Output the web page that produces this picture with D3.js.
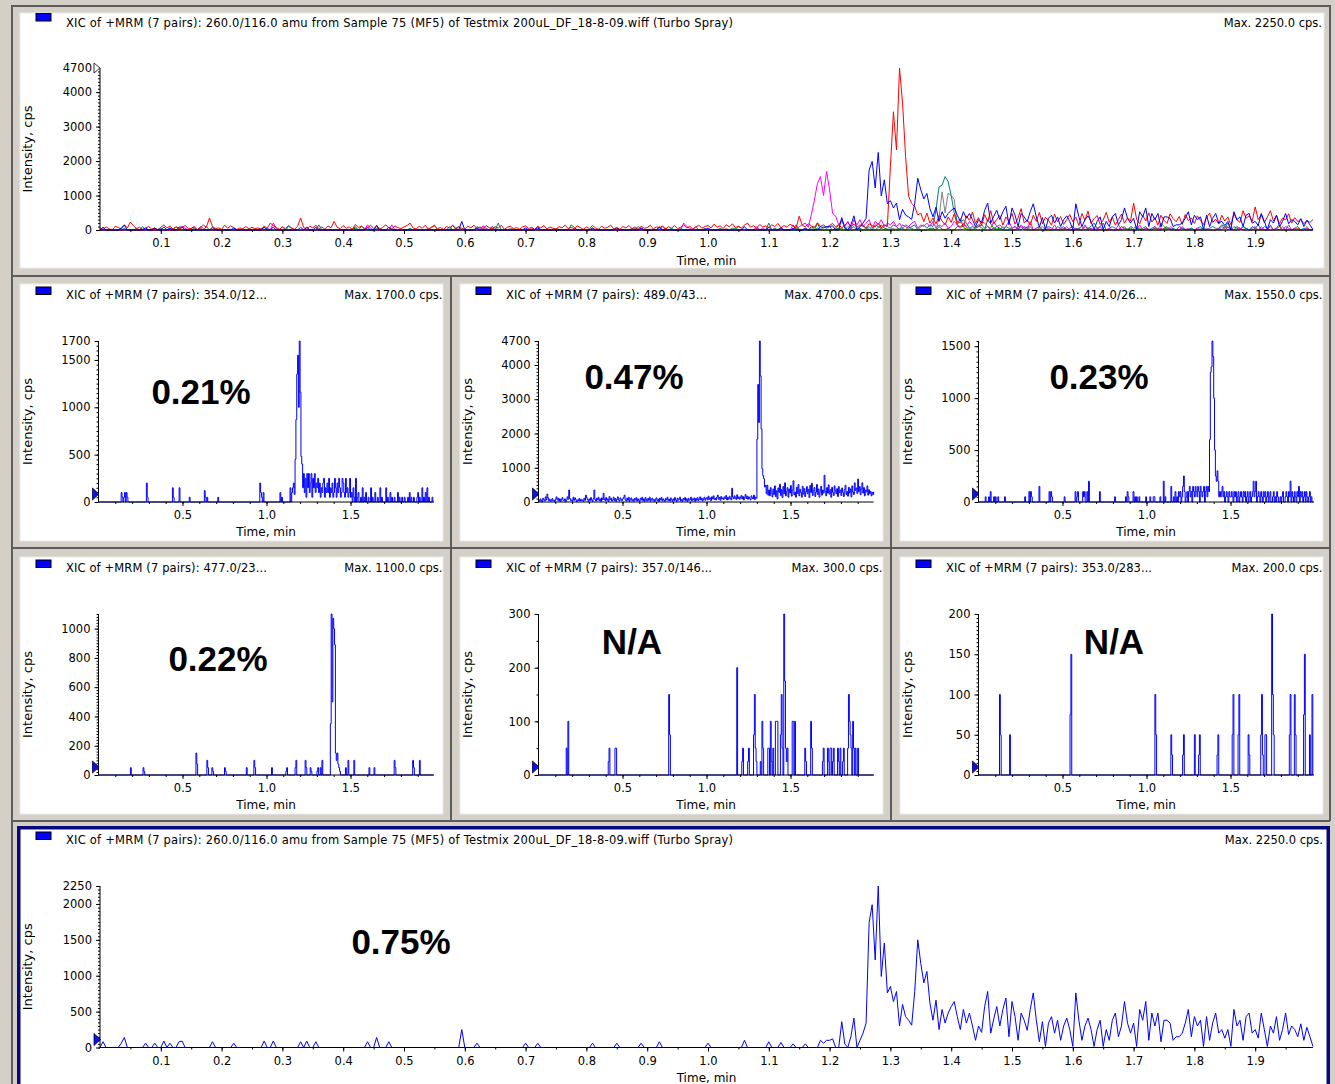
<!DOCTYPE html>
<html>
<head>
<meta charset="utf-8">
<script src="https://cdn.jsdelivr.net/npm/d3@7"></script>
<style>
  body { margin: 0; background: #d4d0c8; }
  svg { display: block; }
  text { font-family: "DejaVu Sans", sans-serif; fill: #000; }
</style>
</head>
<body>
<svg id="chart" width="1335" height="1084"></svg>
<script>
// every trace is sampled every 0.005 min from 0.000 to 1.995 min (20 samples per row = 0.1 min)
const sampleStep = 0.005;

// 260.0/116.0 amu
const trace260 = [
  0,80,0,0,0,0,0,60,140,0,0,0,0,0,0,60,0,0,60,0,
  0,90,0,60,0,0,80,90,0,0,0,0,0,0,0,0,0,80,0,0,
  0,0,0,0,60,0,0,0,0,0,0,0,0,0,90,0,0,90,0,0,
  0,0,0,0,0,0,80,0,90,0,0,80,0,0,0,0,0,0,0,0,
  0,0,0,0,0,0,0,0,80,0,0,140,0,0,0,80,0,0,0,0,
  0,0,0,0,0,0,0,0,0,0,0,0,0,0,0,0,0,0,0,250,
  0,0,0,0,60,0,0,0,0,0,0,0,0,0,0,0,0,0,0,0,
  60,0,0,0,60,0,0,0,0,0,0,0,0,0,0,0,0,0,0,0,
  0,0,60,0,0,0,0,0,0,0,60,0,0,0,0,0,0,0,60,0,
  0,0,0,0,80,0,0,0,0,0,0,0,0,0,0,0,0,0,0,0,
  60,0,0,0,0,0,0,0,0,0,0,0,100,0,0,0,0,0,0,0,
  80,0,0,0,70,0,0,0,50,0,0,0,50,0,0,0,0,100,60,100,
  100,120,0,0,360,50,0,150,410,0,100,200,340,1740,1990,1220,2250,990,1455,760,
  850,640,780,300,600,430,380,310,780,1500,1170,900,1060,620,380,660,250,530,340,480,
  570,640,430,250,530,340,480,300,100,300,210,570,780,200,400,570,300,530,690,150,
  640,430,100,480,380,240,530,760,380,80,360,15,340,430,200,380,100,300,410,250,
  15,760,380,100,300,410,250,15,250,380,15,250,100,380,480,150,300,640,340,200,
  340,15,530,380,640,100,480,300,480,80,380,380,340,100,150,150,200,340,530,150,
  430,300,380,15,430,100,340,480,200,250,130,250,15,530,300,380,100,430,480,200,
  250,130,480,250,15,300,200,430,100,250,480,180,300,250,150,330,100,280,150,15
];

// 489.0/43...
const trace489 = [
  60,20,90,40,0,110,70,30,150,60,230,120,40,80,20,60,100,30,50,10,
  80,150,60,110,30,90,20,70,130,50,40,90,10,60,150,80,350,100,40,60,
  20,140,50,120,70,10,60,40,100,30,80,40,60,20,110,50,200,130,70,20,
  90,40,130,60,20,100,350,70,30,110,60,140,40,90,20,120,60,250,80,40,
  130,50,90,20,160,70,110,30,60,140,40,100,20,80,150,60,30,120,70,40,
  90,130,200,60,30,110,50,140,20,80,120,40,70,20,100,60,130,30,90,50,
  20,110,60,140,40,90,20,130,70,30,100,50,140,20,80,110,40,70,20,90,
  120,40,80,20,110,60,130,30,90,50,20,100,60,140,40,80,30,120,70,20,
  90,40,130,60,20,110,50,80,140,30,70,20,100,60,130,40,90,20,110,50,
  70,140,30,90,60,120,20,100,50,130,40,80,150,60,110,30,90,140,50,100,
  130,60,170,80,120,40,150,90,180,70,110,60,140,200,80,130,50,160,90,120,
  70,150,100,190,60,130,80,170,110,60,400,140,90,180,120,70,210,100,150,80,
  130,190,90,160,60,140,220,100,170,80,150,110,60,180,130,90,200,70,140,110,
  1840,3430,2320,4700,3680,2130,970,770,680,440,490,240,490,200,350,180,420,260,150,380,
  220,470,160,330,90,410,280,520,190,360,130,450,240,560,180,310,420,140,380,260,
  480,170,350,620,210,290,140,430,250,510,180,370,280,140,460,230,390,160,300,450,
  240,370,130,480,280,550,190,330,420,160,290,510,220,380,140,300,460,200,350,260,
  780,310,180,420,260,500,230,360,140,430,280,190,470,330,240,390,160,450,270,350,
  190,410,280,160,360,490,220,310,170,430,260,380,150,470,290,220,560,340,410,250,
  670,300,450,210,380,560,260,420,180,350,290,470,200,360,240,310,180,280,220,300
];

// 354.0/12...
const trace354 = [
  0,0,0,0,0,0,0,0,0,0,0,0,0,0,0,0,0,0,0,0,
  0,0,0,0,0,0,0,100,50,0,50,100,0,100,50,0,0,0,0,0,
  0,0,0,0,0,0,0,0,0,0,0,0,0,0,0,0,0,200,50,0,
  0,0,0,0,0,0,0,0,0,0,0,0,0,0,0,0,0,0,0,0,
  0,0,0,0,0,0,0,0,150,50,0,0,0,0,0,0,150,0,0,0,
  0,0,0,0,0,0,0,0,50,0,0,0,0,0,0,0,0,0,0,0,
  0,0,0,0,0,0,120,50,0,50,0,0,0,0,0,0,0,0,0,0,
  0,0,50,0,0,0,0,0,0,0,0,0,0,0,0,0,0,0,0,0,
  0,0,0,0,0,0,0,0,0,0,0,0,0,0,0,0,0,0,0,0,
  0,0,0,0,0,0,0,0,0,0,0,0,200,100,50,0,100,0,0,0,
  0,0,0,0,0,0,0,0,0,0,0,0,0,0,0,0,100,0,50,0,
  0,0,0,0,0,0,0,0,150,0,100,150,200,80,450,870,1350,1550,1000,1700,
  1160,480,400,150,300,100,250,50,300,150,300,100,200,300,50,250,150,300,100,200,
  150,250,100,200,50,150,100,200,250,50,150,100,200,100,250,50,150,100,200,50,
  100,250,150,50,200,100,250,150,50,100,250,200,100,50,250,100,150,50,100,250,
  50,100,0,150,50,0,250,0,50,100,0,0,50,0,150,0,50,0,100,0,
  0,50,0,0,150,0,50,0,0,100,0,0,50,0,0,150,0,50,0,0,
  0,0,150,0,50,0,0,100,0,50,0,0,50,0,0,0,100,0,50,0,
  0,50,0,0,50,0,0,0,50,0,100,0,50,0,0,50,0,0,0,50,
  100,0,50,0,0,150,0,50,0,100,0,150,0,50,0,0,0,50,0,0
];

// 414.0/26...
const trace414 = [
  0,0,0,0,0,0,0,0,50,0,0,0,50,0,100,0,0,0,50,0,
  50,0,0,50,0,0,0,0,0,0,0,50,0,0,0,0,0,0,0,0,
  0,0,0,0,0,0,0,0,0,0,0,0,0,0,0,50,0,0,0,0,
  100,0,100,50,0,0,0,0,0,0,0,0,150,0,0,0,0,0,0,0,
  0,0,0,0,100,0,100,50,0,0,0,0,0,0,0,0,0,0,0,0,
  0,0,50,0,0,0,0,0,0,0,0,0,0,0,0,100,0,50,100,0,
  0,0,0,0,100,50,100,0,0,100,0,200,0,0,0,0,0,0,0,0,
  0,0,0,0,100,0,0,0,0,0,0,0,0,0,0,0,0,0,0,0,
  0,0,50,0,0,0,0,0,0,0,0,0,0,0,0,50,0,100,50,0,
  0,0,0,0,100,0,50,0,50,0,0,50,0,0,0,0,0,0,0,50,
  0,0,0,0,50,0,0,0,50,50,0,0,0,0,0,0,50,0,0,0,
  200,0,50,0,0,0,0,0,0,150,0,0,50,0,100,0,50,0,100,50,
  100,0,50,150,250,100,0,50,100,0,100,150,50,100,0,150,100,50,150,100,
  50,150,100,0,150,100,50,100,150,0,100,150,50,150,100,600,1250,1300,1550,1400,
  1000,500,250,200,300,200,50,100,50,100,150,50,100,0,50,100,50,0,100,50,
  50,100,50,0,100,50,100,0,50,100,0,50,100,50,0,100,50,100,0,50,
  100,0,50,100,0,50,100,200,50,100,200,0,50,100,50,0,100,50,0,100,
  50,100,0,50,100,0,50,100,0,0,50,100,0,50,0,100,50,0,0,50,
  0,50,100,0,0,50,100,50,0,100,50,200,0,100,50,0,100,50,0,100,
  50,150,0,100,50,100,0,50,100,0,100,50,0,50,100,0,50,0,0,0
];

// 477.0/23...
const trace477 = [
  0,0,0,0,0,0,0,0,0,0,0,0,0,0,0,0,0,0,0,0,
  0,0,0,0,0,0,0,0,0,0,0,0,0,0,0,0,0,0,50,0,
  0,0,0,0,0,0,0,0,0,0,0,0,0,50,25,0,0,0,0,0,
  0,0,0,0,0,0,0,0,0,0,0,0,0,0,0,0,0,0,0,0,
  0,0,0,0,0,0,0,0,0,0,0,0,0,0,0,0,0,0,0,0,
  0,0,0,0,0,0,0,0,0,0,0,0,0,0,0,0,150,75,0,0,
  0,0,0,0,0,0,0,0,0,100,50,0,0,0,0,50,25,0,0,0,
  0,0,0,0,0,0,0,0,0,0,50,25,0,0,0,0,0,0,0,0,
  0,0,0,0,0,0,0,0,0,0,0,0,0,0,0,0,50,0,0,0,
  0,0,0,0,0,100,50,0,0,0,0,0,0,0,0,0,0,0,0,0,
  0,0,0,0,0,0,50,0,0,0,0,0,0,0,0,0,0,0,0,0,
  0,0,0,25,50,0,0,0,0,0,0,0,0,0,50,100,0,0,0,0,
  0,0,0,0,0,0,100,50,0,0,0,0,50,25,0,0,0,0,0,0,
  25,50,0,0,50,0,100,0,0,0,0,0,0,0,0,0,350,1100,500,1070,
  1000,890,150,100,150,75,50,25,0,0,0,0,0,0,50,0,0,100,0,0,
  0,0,0,0,100,0,0,0,0,0,0,0,0,0,0,0,0,0,0,0,
  0,0,50,0,0,0,0,0,50,0,0,0,0,0,0,0,0,0,0,0,
  0,0,0,0,0,0,0,0,0,0,0,0,100,50,0,0,0,0,0,0,
  0,0,0,0,0,0,0,0,0,0,0,0,0,0,100,50,0,0,0,0,
  0,0,100,0,0,0,0,0,0,0,0,0,0,0,0,0,0,0,0,0
];

// 357.0/146...
const trace357 = [
  0,0,0,0,0,0,0,0,0,0,0,0,0,0,0,0,0,0,0,0,
  0,0,0,0,0,0,0,0,0,0,0,0,0,50,0,100,0,0,0,0,
  0,0,0,0,0,0,0,0,0,0,0,0,0,0,0,0,0,0,0,0,
  0,0,0,0,0,0,0,0,0,0,0,0,0,0,0,0,0,0,0,0,
  0,0,0,25,50,0,0,0,0,0,0,50,50,0,0,0,0,0,0,0,
  0,0,0,0,0,0,0,0,0,0,0,0,0,0,0,0,0,0,0,0,
  0,0,0,0,0,0,0,0,0,0,0,0,0,0,0,0,0,0,0,0,
  0,0,0,0,0,0,0,0,0,0,0,0,0,0,0,150,75,0,0,0,
  0,0,0,0,0,0,0,0,0,0,0,0,0,0,0,0,0,0,0,0,
  0,0,0,0,0,0,0,0,0,0,0,0,0,0,0,0,0,0,0,0,
  0,0,0,0,0,0,0,0,0,0,0,0,0,0,0,0,0,0,0,0,
  0,0,0,0,0,0,0,0,0,0,0,0,0,0,0,0,200,0,0,0,
  0,0,25,50,0,0,0,0,0,25,50,0,0,0,0,0,75,150,50,25,
  0,0,0,0,25,0,100,50,0,0,0,0,0,50,50,0,100,25,0,50,
  0,0,100,100,100,0,0,0,75,150,50,0,300,175,50,25,50,0,0,0,
  0,0,100,100,0,100,0,0,0,0,0,0,0,0,0,0,0,50,25,0,
  0,0,0,0,100,50,0,0,0,0,0,0,0,0,0,0,0,0,25,50,
  0,0,0,0,50,25,0,50,50,0,25,50,0,0,0,0,50,25,0,50,
  0,0,25,50,0,0,0,0,50,150,100,75,50,0,100,50,0,50,0,0,
  50,0,0,0,0,0,0,0,0,0,0,0,0,0,0,0,0,0,0,0
];

// 353.0/283...
const trace353 = [
  0,0,0,0,0,0,0,0,0,0,0,0,0,0,0,0,0,0,0,0,
  0,0,0,0,0,100,50,0,0,0,0,0,0,0,0,0,0,50,0,0,
  0,0,0,0,0,0,0,0,0,0,0,0,0,0,0,0,0,0,0,0,
  0,0,0,0,0,0,0,0,0,0,0,0,0,0,0,0,0,0,0,0,
  0,0,0,0,0,0,0,0,0,0,0,0,0,0,0,0,0,0,0,0,
  0,0,0,0,0,0,0,0,0,75,150,0,0,0,0,0,0,0,0,0,
  0,0,0,0,0,0,0,0,0,0,0,0,0,0,0,0,0,0,0,0,
  0,0,0,0,0,0,0,0,0,0,0,0,0,0,0,0,0,0,0,0,
  0,0,0,0,0,0,0,0,0,0,0,0,0,0,0,0,0,0,0,0,
  0,0,0,0,0,0,0,0,0,0,0,0,0,0,0,0,0,0,0,0,
  0,0,0,0,0,0,0,0,0,0,100,50,0,0,0,0,0,0,0,0,
  0,0,0,0,0,0,0,0,0,50,25,0,0,0,0,0,0,0,0,0,
  0,0,0,25,50,0,0,0,0,0,0,0,0,0,0,0,0,50,0,0,
  0,0,25,50,0,0,0,0,0,0,0,0,0,0,0,0,0,0,0,0,
  0,0,0,0,25,50,0,0,0,0,0,0,0,0,0,0,0,0,0,0,
  0,0,50,100,0,0,0,0,0,50,100,0,0,0,0,0,0,0,0,0,
  0,50,25,0,0,0,0,0,0,0,0,0,0,0,0,0,50,100,25,0,
  0,50,50,0,0,0,0,0,0,200,100,50,0,0,0,0,0,0,0,0,
  0,0,0,0,0,0,0,0,0,0,50,100,0,0,0,0,100,50,0,0,
  0,0,0,0,0,0,0,75,150,0,0,0,0,0,50,0,0,100,0,0
];

// labels and tick values
const wideTitle = "XIC of +MRM (7 pairs): 260.0/116.0 amu from Sample 75 (MF5) of Testmix 200uL_DF_18-8-09.wiff (Turbo Spray)";
const wideMaxCps = 2250.0;
const topYMax = 4700;
const topYTicks = [0, 1000, 2000, 3000, 4000, 4700];
const bottomYMax = 2250;
const bottomYTicks = [0, 500, 1000, 1500, 2000, 2250];
const bottomNote = "0.75%";
const wideTimeLabels = ["0.1","0.2","0.3","0.4","0.5","0.6","0.7","0.8","0.9","1.0","1.1","1.2","1.3","1.4","1.5","1.6","1.7","1.8","1.9"];
const narrowTimeLabels = ["0.5", "1.0", "1.5"];

const smallPairs = ["354.0/12...", "489.0/43...", "414.0/26...", "477.0/23...", "357.0/146...", "353.0/283..."];
const smallMaxCps = [1700.0, 4700.0, 1550.0, 1100.0, 300.0, 200.0];
const smallYTicks = [
  [0, 500, 1000, 1500, 1700],
  [0, 1000, 2000, 3000, 4000, 4700],
  [0, 500, 1000, 1500],
  [0, 200, 400, 600, 800, 1000],
  [0, 100, 200, 300],
  [0, 50, 100, 150, 200]
];
const smallNotes = ["0.21%", "0.47%", "0.23%", "0.22%", "N/A", "N/A"];

// ---- layout / style ----
const smallTraces = [trace354, trace489, trace414, trace477, trace357, trace353];
const smallMinorStep = [50, 100, 50, 20, 50, 5];
const smallNotePos = [[201, 404], [634, 389], [1099, 389], [218, 671], [632, 654], [1114, 654]];
const overlay = [
  { values: trace357, color: "#008000" },
  { values: trace353, color: "#808000" },
  { values: trace477, color: "#808080" },
  { values: trace414, color: "#008080" },
  { values: trace354, color: "#ff00ff" },
  { values: trace489, color: "#ff0000" },
  { values: trace260, color: "#0000ff" }
];
const fontSize = 11.5;
const lastTime = (trace260.length - 1) * sampleStep;

const svg = d3.select("#chart");
svg.append("rect").attr("width", 1335).attr("height", 1084).attr("fill", "#d4d0c8");

// white plot areas
const whiteBoxes = [[20, 13, 1324, 268]];
for (let r = 0; r < 2; r++) {
  for (let c = 0; c < 3; c++) {
    whiteBoxes.push([20 + 440 * c, 284 + 273 * r, 443 + 440 * c, 541 + 273 * r]);
  }
}
svg.selectAll("rect.white").data(whiteBoxes).join("rect")
  .attr("class", "white")
  .attr("x", (d) => d[0]).attr("y", (d) => d[1])
  .attr("width", (d) => d[2] - d[0]).attr("height", (d) => d[3] - d[1])
  .attr("fill", "#ffffff").attr("stroke", "#ecebe8").attr("stroke-width", 1);

// frame lines between panels
const frameLines = [
  [12, 5, 12, 1084], [1330, 5, 1330, 821], [12, 6, 1330, 6],
  [12, 276, 1330, 276], [12, 548, 1330, 548], [12, 821, 1330, 821],
  [451, 276, 451, 821], [891, 276, 891, 821]
];
svg.selectAll("line.frame").data(frameLines).join("line")
  .attr("class", "frame")
  .attr("x1", (d) => d[0]).attr("y1", (d) => d[1])
  .attr("x2", (d) => d[2]).attr("y2", (d) => d[3])
  .attr("stroke", "#5c5c5c").attr("stroke-width", 2);

// selected (bottom) pane with navy border
svg.append("rect")
  .attr("x", 18.75).attr("y", 827.75).attr("width", 1309.5).attr("height", 300)
  .attr("fill", "#ffffff").attr("stroke", "#08087a").attr("stroke-width", 3.5);

function drawPanel(cfg) {
  const g = svg.append("g");
  const x = d3.scaleLinear().domain([0, 2]).range([cfg.left, cfg.left + cfg.pxPerMin * 2]);
  const y = d3.scaleLinear().domain([0, cfg.yMax]).range([cfg.bottom, cfg.top]);

  const line = d3.line()
    .x((d, i) => x(i * sampleStep))
    .y((d) => y(d))
    .curve(cfg.curve);

  g.selectAll("path.trace").data(cfg.traces).join("path")
    .attr("class", "trace")
    .attr("d", (d) => line(d.values))
    .attr("fill", "none")
    .attr("stroke", (d) => d.color)
    .attr("stroke-width", 1);

  const style = (a) => a
    .attr("font-family", "DejaVu Sans")
    .attr("font-size", fontSize)
    .attr("color", "#000")
    .call((s) => s.select(".domain").remove());

  // x axis: minor then labelled ticks
  g.append("g").attr("transform", `translate(0,${cfg.bottom})`)
    .call(d3.axisBottom(x).tickValues(d3.range(cfg.xMinor, lastTime, cfg.xMinor)).tickSize(2).tickFormat(""))
    .call(style);
  g.append("g").attr("transform", `translate(0,${cfg.bottom})`)
    .call(d3.axisBottom(x).tickValues(cfg.xLabels.map(Number)).tickSize(4).tickPadding(5)
      .tickFormat((d, i) => cfg.xLabels[i]))
    .call(style);

  // y axis: minor then labelled ticks
  g.append("g").attr("transform", `translate(${x(0)},0)`)
    .call(d3.axisLeft(y).tickValues(d3.range(0, cfg.yMax + 1e-6, cfg.yMinor)).tickSize(2).tickFormat(""))
    .call(style);
  g.append("g").attr("transform", `translate(${x(0)},0)`)
    .call(d3.axisLeft(y).tickValues(cfg.yTicks).tickSize(4).tickPadding(4).tickFormat(d3.format("d")))
    .call(style);

  // axis lines
  g.append("line")
    .attr("x1", x(0)).attr("x2", x(lastTime))
    .attr("y1", y(0)).attr("y2", y(0))
    .attr("stroke", "#000").attr("stroke-width", 1.2);
  g.append("line")
    .attr("x1", x(0)).attr("x2", x(0))
    .attr("y1", y(0)).attr("y2", y(cfg.yMax))
    .attr("stroke", "#000").attr("stroke-width", 1);

  // threshold markers on the y axis
  if (cfg.hollowMarker) {
    const ym = y(cfg.yMax);
    g.append("path")
      .attr("d", `M${x(0) - 6},${ym - 5} L${x(0)},${ym} L${x(0) - 6},${ym + 5} Z`)
      .attr("fill", "#fff").attr("stroke", "#333").attr("stroke-width", 1);
  } else {
    const y0 = y(0);
    g.append("path")
      .attr("d", `M${x(0) - 6},${y0 - 14} L${x(0) + 0.5},${y0 - 8} L${x(0) - 6},${y0 - 2} Z`)
      .attr("fill", "#1010e0").attr("stroke", "#000050").attr("stroke-width", 0.8);
  }

  // header: legend box, title and max
  g.append("rect")
    .attr("x", 36).attr("y", cfg.legendY).attr("width", 15).attr("height", 7.5)
    .attr("transform", `translate(${cfg.ox},0)`)
    .attr("fill", "#0000ff").attr("stroke", "#000").attr("stroke-width", 1);
  g.append("text")
    .attr("x", 66 + cfg.ox).attr("y", cfg.titleY)
    .attr("font-size", fontSize)
    .attr("textLength", cfg.titleLength).attr("lengthAdjust", "spacing")
    .text(cfg.title);
  g.append("text")
    .attr("x", cfg.maxRight).attr("y", cfg.titleY)
    .attr("text-anchor", "end")
    .attr("font-size", fontSize)
    .text(`Max. ${cfg.maxCps.toFixed(1)} cps.`);

  // axis titles
  g.append("text")
    .attr("x", (x(0) + x(lastTime)) / 2).attr("y", cfg.xTitleY)
    .attr("text-anchor", "middle").attr("font-size", 12)
    .text("Time, min");
  g.append("text")
    .attr("transform", `translate(${32 + cfg.ox},${(y(0) + y(cfg.yMax)) / 2}) rotate(-90)`)
    .attr("text-anchor", "middle").attr("font-size", 13)
    .text("Intensity, cps");

  if (cfg.note) {
    g.append("text")
      .attr("x", cfg.notePos[0]).attr("y", cfg.notePos[1])
      .attr("text-anchor", "middle")
      .style("font-family", "'Liberation Sans', Arial, sans-serif")
      .attr("font-size", 35).attr("font-weight", "bold")
      .text(cfg.note);
  }
}

// overlay of all seven transitions
drawPanel({
  ox: 0, left: 100, pxPerMin: 608, bottom: 230, top: 68,
  yMax: topYMax, yTicks: topYTicks, yMinor: 100,
  xLabels: wideTimeLabels, xMinor: 0.05,
  traces: overlay, curve: d3.curveLinear,
  legendY: 13.5, titleY: 26.5, title: wideTitle, titleLength: 667,
  maxRight: 1322, maxCps: wideMaxCps, xTitleY: 265,
  hollowMarker: true
});

// six single transitions
smallPairs.forEach((pair, k) => {
  const c = k % 3;
  const r = Math.floor(k / 3);
  const ox = 440 * c;
  const oy = 273 * r;
  drawPanel({
    ox: ox, left: 98.5 + ox, pxPerMin: 168, bottom: 502 + oy, top: 341 + oy,
    yMax: smallMaxCps[k], yTicks: smallYTicks[k], yMinor: smallMinorStep[k],
    xLabels: narrowTimeLabels, xMinor: 0.1,
    traces: [{ values: smallTraces[k], color: "#0000ff" }], curve: d3.curveStepAfter,
    legendY: 287 + oy, titleY: 298.5 + oy,
    title: "XIC of +MRM (7 pairs): " + pair, titleLength: pair.length > 11 ? 206 : 201,
    maxRight: 442.5 + ox, maxCps: smallMaxCps[k], xTitleY: 536 + oy,
    note: smallNotes[k], notePos: smallNotePos[k]
  });
});

// selected 260.0/116.0 trace
drawPanel({
  ox: 0, left: 100, pxPerMin: 608, bottom: 1047.5, top: 886,
  yMax: bottomYMax, yTicks: bottomYTicks, yMinor: 50,
  xLabels: wideTimeLabels, xMinor: 0.05,
  traces: [{ values: trace260, color: "#0000ff" }], curve: d3.curveLinear,
  legendY: 832, titleY: 844, title: wideTitle, titleLength: 667,
  maxRight: 1323, maxCps: wideMaxCps, xTitleY: 1082,
  note: bottomNote, notePos: [401, 954]
});
</script>
</body>
</html>
